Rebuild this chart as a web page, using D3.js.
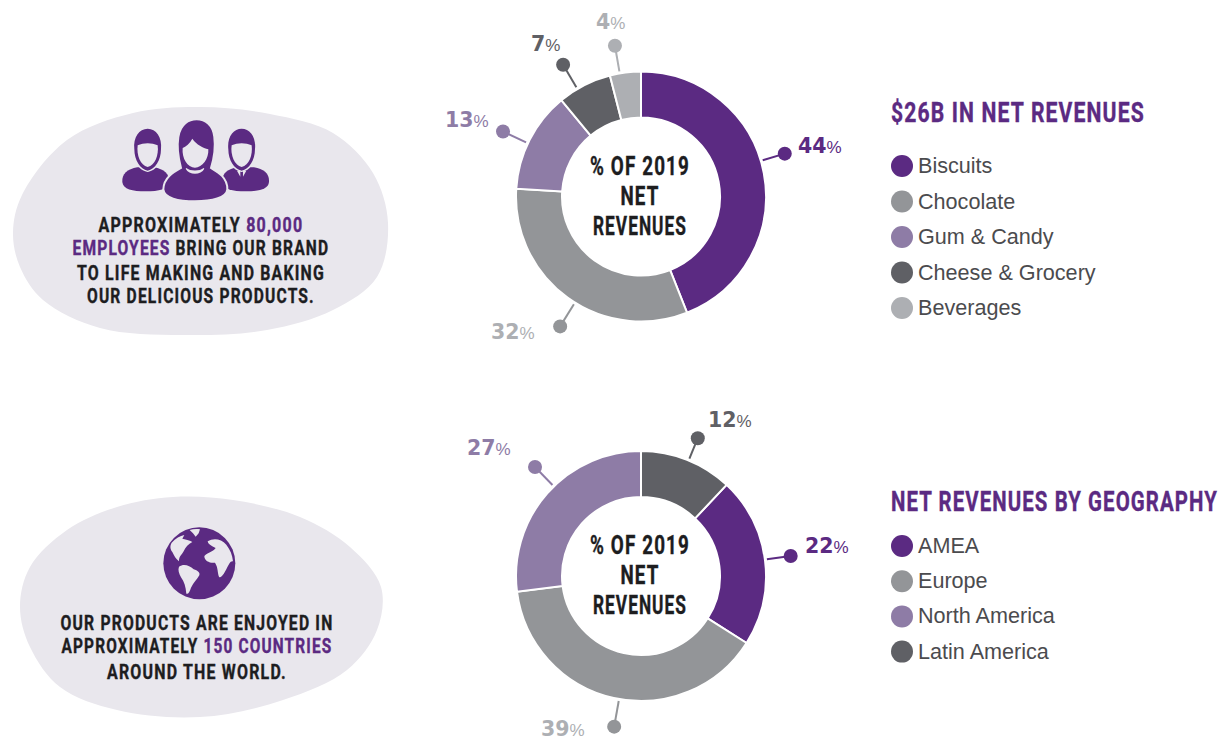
<!DOCTYPE html>
<html>
<head>
<meta charset="utf-8">
<script src="https://cdn.jsdelivr.net/npm/d3@7"></script>
<style>
  body { margin: 0; background: #fff; }
  .head { font-family: "Roboto", "Liberation Sans", sans-serif; font-weight: 700; letter-spacing: 1.5px; stroke: currentColor; stroke-width: 0.4px; }
  .legend { font-family: "Liberation Sans", sans-serif; font-size: 21.6px; fill: #4b4b4e; }
</style>
</head>
<body>
<div id="chart"></div>
<script>
// Chart values
var productNames = ["Biscuits", "Chocolate", "Gum & Candy", "Cheese & Grocery", "Beverages"];
var productValues = [44, 32, 13, 7, 4];
var geoNames = ["AMEA", "Europe", "North America", "Latin America"];
var geoValues = [22, 39, 27, 12];
var centerLines = ["% OF 2019", "NET", "REVENUES"];

var svgWidth = 1222;
var svgHeight = 740;
var purple = "#5b2a82", gray = "#939598", lilac = "#8e7ca6", dark = "#5f6065", light = "#adafb3", blobFill = "#e9e7ed";

var productColors = [purple, gray, lilac, dark, light];
var geoColors = [purple, gray, lilac, dark];

var svg = d3.select("#chart")
  .append("svg")
  .attr("width", svgWidth)
  .attr("height", svgHeight)
  .style("display", "block");

// squeeze a text sideways to the width it has in the reference
function fitText(t, x, y, w, anchor) {
  var natural = t.node().getComputedTextLength();
  var left = anchor == "middle" ? x - w / 2 : x;
  t.attr("transform", `translate(${left},${y}) scale(${w / natural},1)`);
}

// Background blobs
var blobLine = d3.line().curve(d3.curveCatmullRomClosed.alpha(0.5));
var blobOne = [[13,233],[22,195],[67,140],[133,113],[200,107],[270,114],[333,133],[373,173],[388,223],[377,277],[333,310],[267,330],[183,335],[100,328],[43,300],[20,267]];
var blobTwo = [[20,607],[30,567],[67,530],[117,507],[173,497],[233,500],[300,517],[350,547],[381,587],[377,630],[347,670],[283,700],[200,717],[117,710],[60,687],[30,647]];
svg.append("path").attr("d", blobLine(blobOne)).attr("fill", blobFill);
svg.append("path").attr("d", blobLine(blobTwo)).attr("fill", blobFill);

// People icon, drawn at 3x and scaled down
var people = svg.append("g").attr("transform", "translate(115,112) scale(0.3333)");
function man(headX, bodyX, tie) {
  people.append("path").attr("fill", purple)
    .attr("transform", `translate(${bodyX},0)`)
    .attr("d", "M-70,210 C-72,185 -55,172 -25,166 L25,166 C55,172 72,185 70,210 C68,232 40,238 0,238 C-40,238 -68,232 -70,210 Z");
  var g = people.append("g").attr("transform", `translate(${headX},0)`);
  g.append("path").attr("fill", blobFill).attr("stroke", blobFill).attr("stroke-width", 8)
    .attr("d", "M-38,120 C-38,150 -22,172 0,176 C22,172 38,150 38,120 Z");
  g.append("path").attr("fill", purple)
    .attr("d", "M-40,112 C-44,75 -25,50 0,50 C25,50 44,75 40,112 C40,145 22,172 0,176 C-22,172 -40,145 -40,112 Z");
  g.append("path").attr("fill", blobFill)
    .attr("d", "M-30,100 C-12,92 12,92 30,100 C34,130 22,160 0,165 C-22,160 -34,130 -30,100 Z");
  if (tie) {
    people.append("path").attr("fill", blobFill).attr("transform", `translate(${headX},0)`)
      .attr("d", "M-14,176 L-4,194 L-4,176 Z M14,176 L4,194 L4,176 Z");
  }
}
man(98, 92, false);
man(380, 392, true);
// outline keeps the woman apart from the men
people.append("path").attr("fill", purple).attr("stroke", blobFill).attr("stroke-width", 6)
  .attr("d", "M145,232 C146,195 180,178 198,168 C188,130 186,100 190,75 C196,35 222,22 245,22 C270,22 294,38 298,75 C302,105 298,135 288,168 C305,178 338,195 337,232 C335,258 290,268 240,268 C190,268 147,258 145,232 Z");
people.append("path").attr("fill", blobFill)
  .attr("d", "M203,108 C212,104 225,94 232,80 C245,98 264,108 280,112 C282,140 262,167 240,167 C218,167 200,140 203,108 Z");
people.append("path").attr("fill", blobFill)
  .attr("d", "M212,170 C222,190 258,190 268,170 L266,168 C255,178 225,178 214,168 Z");

// Globe icon, drawn at 3x and scaled down
var globe = svg.append("g").attr("transform", "translate(155,520) scale(0.3333)");
globe.append("circle").attr("cx", 133).attr("cy", 130).attr("r", 108).attr("fill", purple);
var lands = [
  "M50,68 C62,55 75,48 88,45 L82,56 C95,60 106,60 112,66 C100,72 92,80 86,94 C80,106 72,108 72,124 C62,116 58,108 52,96 C46,88 44,78 50,68 Z",
  "M104,30 C114,27 125,26 135,28 L131,40 L122,50 L114,40 Z",
  "M72,140 C85,130 103,135 116,148 C128,152 136,158 133,166 C126,178 116,188 108,203 C104,216 99,224 94,221 C92,200 88,185 78,172 C72,160 68,150 72,140 Z",
  "M148,108 C162,94 172,98 182,84 C170,78 160,74 158,64 C175,54 198,56 214,74 C226,90 232,104 234,124 C226,122 222,132 214,148 C206,164 197,176 192,170 C187,158 190,144 180,128 C166,130 148,124 148,108 Z"
];
globe.selectAll("path.land").data(lands).enter().append("path")
  .attr("class", "land").attr("fill", blobFill).attr("d", d => d);

// Blob captions, each run is [text, highlighted]
var captions = [
  { x: 201, y: 232, w: 205, runs: [["APPROXIMATELY ", 0], ["80,000", 1]] },
  { x: 201, y: 255, w: 257, runs: [["EMPLOYEES", 1], [" BRING OUR BRAND", 0]] },
  { x: 201, y: 280, w: 248, runs: [["TO LIFE MAKING AND BAKING", 0]] },
  { x: 201, y: 303, w: 228, runs: [["OUR DELICIOUS PRODUCTS.", 0]] },
  { x: 197, y: 630, w: 273, runs: [["OUR PRODUCTS ARE ENJOYED IN", 0]] },
  { x: 197, y: 653, w: 271, runs: [["APPROXIMATELY ", 0], ["150 COUNTRIES", 1]] },
  { x: 197, y: 679, w: 180, runs: [["AROUND THE WORLD.", 0]] }
];
captions.forEach(function(line) {
  var t = svg.append("text").attr("class", "head")
    .attr("font-size", 20)
    .style("white-space", "pre")
    .attr("fill", "#1d1d1f");
  line.runs.forEach(function(r) {
    t.append("tspan")
      .attr("fill", r[1] ? purple : "#1d1d1f")
      .style("color", r[1] ? purple : "#1d1d1f")
      .text(r[0]);
  });
  fitText(t, line.x, line.y, line.w, "middle");
});

// Donuts
var arc = d3.arc().innerRadius(79).outerRadius(125);
var rad = Math.PI / 180;

function drawDonut(cfg) {
  var g = svg.append("g").attr("transform", `translate(${cfg.cx},${cfg.cy})`);
  var pie = d3.pie().sort(null)
    .startAngle(cfg.start * rad)
    .endAngle((cfg.start + 360) * rad);
  var arcs = pie(cfg.values);

  g.selectAll("path.slice").data(arcs).enter().append("path")
    .attr("class", "slice")
    .attr("d", arc)
    .attr("fill", (d, i) => cfg.colors[i])
    .attr("stroke", "#fff")
    .attr("stroke-width", 2);

  // pin for each slice
  cfg.values.forEach(function(v, i) {
    var p = cfg.pins[i];
    var a = d3.pointRadial(p.angle * rad, 127);
    var b = d3.pointRadial(p.angle * rad, p.r);
    g.append("line")
      .attr("x1", a[0]).attr("y1", a[1]).attr("x2", b[0]).attr("y2", b[1])
      .attr("stroke", cfg.colors[i]).attr("stroke-width", 2);
    g.append("circle")
      .attr("cx", b[0]).attr("cy", b[1]).attr("r", 7)
      .attr("fill", cfg.colors[i]);
    var t = svg.append("text")
      .attr("x", p.lx).attr("y", p.ly)
      .attr("fill", cfg.labelColors[i])
      .attr("font-family", "DejaVu Sans")
      .attr("font-weight", 700)
      .attr("font-size", 20.5)
      .text(v);
    t.append("tspan")
      .attr("font-family", "Liberation Sans")
      .attr("font-weight", 400)
      .attr("font-size", 17)
      .text("%");
  });

  // centre text
  var widths = [100, 39, 94];
  centerLines.forEach(function(s, i) {
    var t = svg.append("text").attr("class", "head")
      .attr("font-size", 25)
      .attr("fill", "#1d1d1f")
      .style("color", "#1d1d1f")
      .text(s);
    fitText(t, cfg.cx - 1, cfg.cy - 22 + i * 30, widths[i], "middle");
  });

  // legend
  var title = svg.append("text").attr("class", "head")
    .attr("font-size", 28)
    .attr("fill", purple)
    .style("color", purple)
    .text(cfg.title);
  fitText(title, 891, cfg.titleY, cfg.titleW, "start");
  cfg.names.forEach(function(name, i) {
    var y = cfg.legendY + i * cfg.legendStep;
    svg.append("circle").attr("cx", 902).attr("cy", y).attr("r", 11).attr("fill", cfg.colors[i]);
    svg.append("text").attr("class", "legend")
      .attr("x", 918).attr("y", y + 7)
      .text(name);
  });
}

drawDonut({
  cx: 641, cy: 196.5, start: 0,
  values: productValues, names: productNames, colors: productColors,
  labelColors: [purple, light, lilac, dark, light],
  title: "$26B IN NET REVENUES", titleY: 122, titleW: 254,
  legendY: 166, legendStep: 35.5,
  pins: [
    { angle: 73.4, r: 150, lx: 798, ly: 153 },
    { angle: 211.9, r: 153, lx: 491, ly: 339 },
    { angle: 295.2, r: 152.5, lx: 445, ly: 127 },
    { angle: 329.4, r: 153, lx: 531, ly: 51 },
    { angle: 350.2, r: 153, lx: 596, ly: 29 }
  ]
});

drawDonut({
  cx: 641, cy: 576, start: 43.2,
  values: geoValues, names: geoNames, colors: geoColors,
  labelColors: [purple, light, lilac, dark],
  title: "NET REVENUES BY GEOGRAPHY", titleY: 511, titleW: 327,
  legendY: 546, legendStep: 35.2,
  pins: [
    { angle: 82.4, r: 151, lx: 805, ly: 553 },
    { angle: 190.1, r: 153, lx: 541, ly: 736 },
    { angle: 315.8, r: 152, lx: 467, ly: 455 },
    { angle: 22.4, r: 149, lx: 708, ly: 427 }
  ]
});
</script>
</body>
</html>
